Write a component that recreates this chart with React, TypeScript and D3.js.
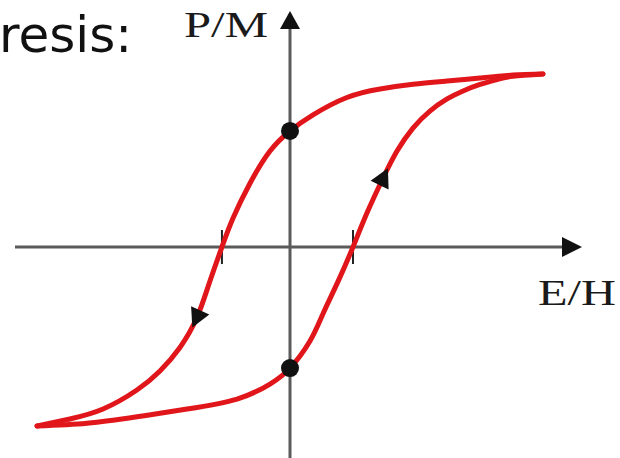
import React from "react";
import * as d3 from "d3";

// Descending branch (top-right -> bottom-left)
const eDown = [1.0, 0.881, 0.751, 0.621, 0.486, 0.356, 0.225, 0.091, 0, -0.079, -0.158, -0.225, -0.269, -0.318, -0.368, -0.435, -0.514, -0.605, -0.739, -0.87, -1.0];
const pDown = [0.956, 0.95, 0.934, 0.917, 0.899, 0.873, 0.826, 0.73, 0.641, 0.53, 0.352, 0.16, 0, -0.195, -0.39, -0.555, -0.685, -0.79, -0.895, -0.95, -0.989];
// Ascending branch (bottom-left -> top-right)
const eUp = [-1.0, -0.802, -0.605, -0.407, -0.209, -0.079, 0, 0.079, 0.13, 0.19, 0.249, 0.305, 0.368, 0.423, 0.486, 0.553, 0.621, 0.684, 0.751, 0.818, 0.881, 1.0];
const pUp = [-0.989, -0.974, -0.938, -0.895, -0.84, -0.757, -0.669, -0.519, -0.37, -0.19, 0, 0.19, 0.381, 0.53, 0.657, 0.751, 0.818, 0.862, 0.898, 0.925, 0.943, 0.956];

const remanence = [0.641, -0.669];
const coercive = [-0.269, 0.249];
const arrowIdxDown = 14;
const arrowIdxUp = 12;

const title = "resis:";
const yLabel = "P/M";
const xLabel = "E/H";

const W = 620;
const H = 458;
const RED = "#e0161b";
const AXIS = "#5a5a5a";

function arrowPath(
  xs: number[], ys: number[], i: number,
  sx: (v: number) => number, sy: (v: number) => number
) {
  const cx = sx(xs[i]), cy = sy(ys[i]);
  const dx = sx(xs[i + 1]) - sx(xs[i - 1]);
  const dy = sy(ys[i + 1]) - sy(ys[i - 1]);
  const len = Math.hypot(dx, dy);
  const ux = dx / len, uy = dy / len;
  const px = -uy, py = ux;
  const tipF = 11, backF = 8, half = 10;
  const tx = cx + ux * tipF, ty = cy + uy * tipF;
  const bx = cx - ux * backF, by = cy - uy * backF;
  return `M${tx},${ty}L${bx + px * half},${by + py * half}L${bx - px * half},${by - py * half}Z`;
}

export default function App() {
  const x = d3.scaleLinear().domain([-1, 1]).range([37, 543]);
  const y = d3.scaleLinear().domain([-1, 1]).range([428, 66]);
  const line = d3
    .line<[number, number]>()
    .x((d) => x(d[0]))
    .y((d) => y(d[1]))
    .curve(d3.curveNatural);

  const down = eDown.map((e, i) => [e, pDown[i]] as [number, number]);
  const up = eUp.map((e, i) => [e, pUp[i]] as [number, number]);

  const x0 = x(0);
  const y0 = y(0);

  return (
    <svg
      width={W}
      height={H}
      style={{ position: "absolute", left: 0, top: 0, background: "#fff" }}
    >
      <rect width={W} height={H} fill="#fff" />
      <text
        x={-1}
        y={52}
        fontFamily="'DejaVu Sans', sans-serif"
        fontSize={50}
        fill="#111"
      >
        {title}
      </text>

      {/* axes */}
      <line x1={15} x2={566} y1={y0} y2={y0} stroke={AXIS} strokeWidth={3} />
      <path d={`M582,${y0}L562,${y0 - 10}L562,${y0 + 10}Z`} fill="#111" />
      <line x1={x0} x2={x0} y1={26} y2={458} stroke={AXIS} strokeWidth={3} />
      <path d={`M${x0},11L${x0 - 10},29L${x0 + 10},29Z`} fill="#111" />

      <text
        x={184}
        y={37}
        fontFamily="'Liberation Serif', 'DejaVu Serif', serif"
        fontSize={35}
        textLength={84}
        lengthAdjust="spacingAndGlyphs"
        fill="#1a1a1a"
      >
        {yLabel}
      </text>
      <text
        x={538}
        y={305}
        fontFamily="'Liberation Serif', 'DejaVu Serif', serif"
        fontSize={35}
        textLength={78}
        lengthAdjust="spacingAndGlyphs"
        fill="#1a1a1a"
      >
        {xLabel}
      </text>

      {/* coercive ticks */}
      {coercive.map((c, i) => (
        <line
          key={i}
          x1={x(c)}
          x2={x(c)}
          y1={y0 - 17}
          y2={y0 + 17}
          stroke="#222"
          strokeWidth={2}
        />
      ))}

      {/* loop */}
      <path d={line(down) || ""} fill="none" stroke={RED} strokeWidth={5} strokeLinecap="round" />
      <path d={line(up) || ""} fill="none" stroke={RED} strokeWidth={5} strokeLinecap="round" />

      {/* direction arrows */}
      <path d={arrowPath(eDown, pDown, arrowIdxDown, x, y)} fill="#111" />
      <path d={arrowPath(eUp, pUp, arrowIdxUp, x, y)} fill="#111" />

      {/* remanence dots */}
      {remanence.map((r, i) => (
        <circle key={i} cx={x(0)} cy={y(r)} r={9} fill="#111" />
      ))}
    </svg>
  );
}
